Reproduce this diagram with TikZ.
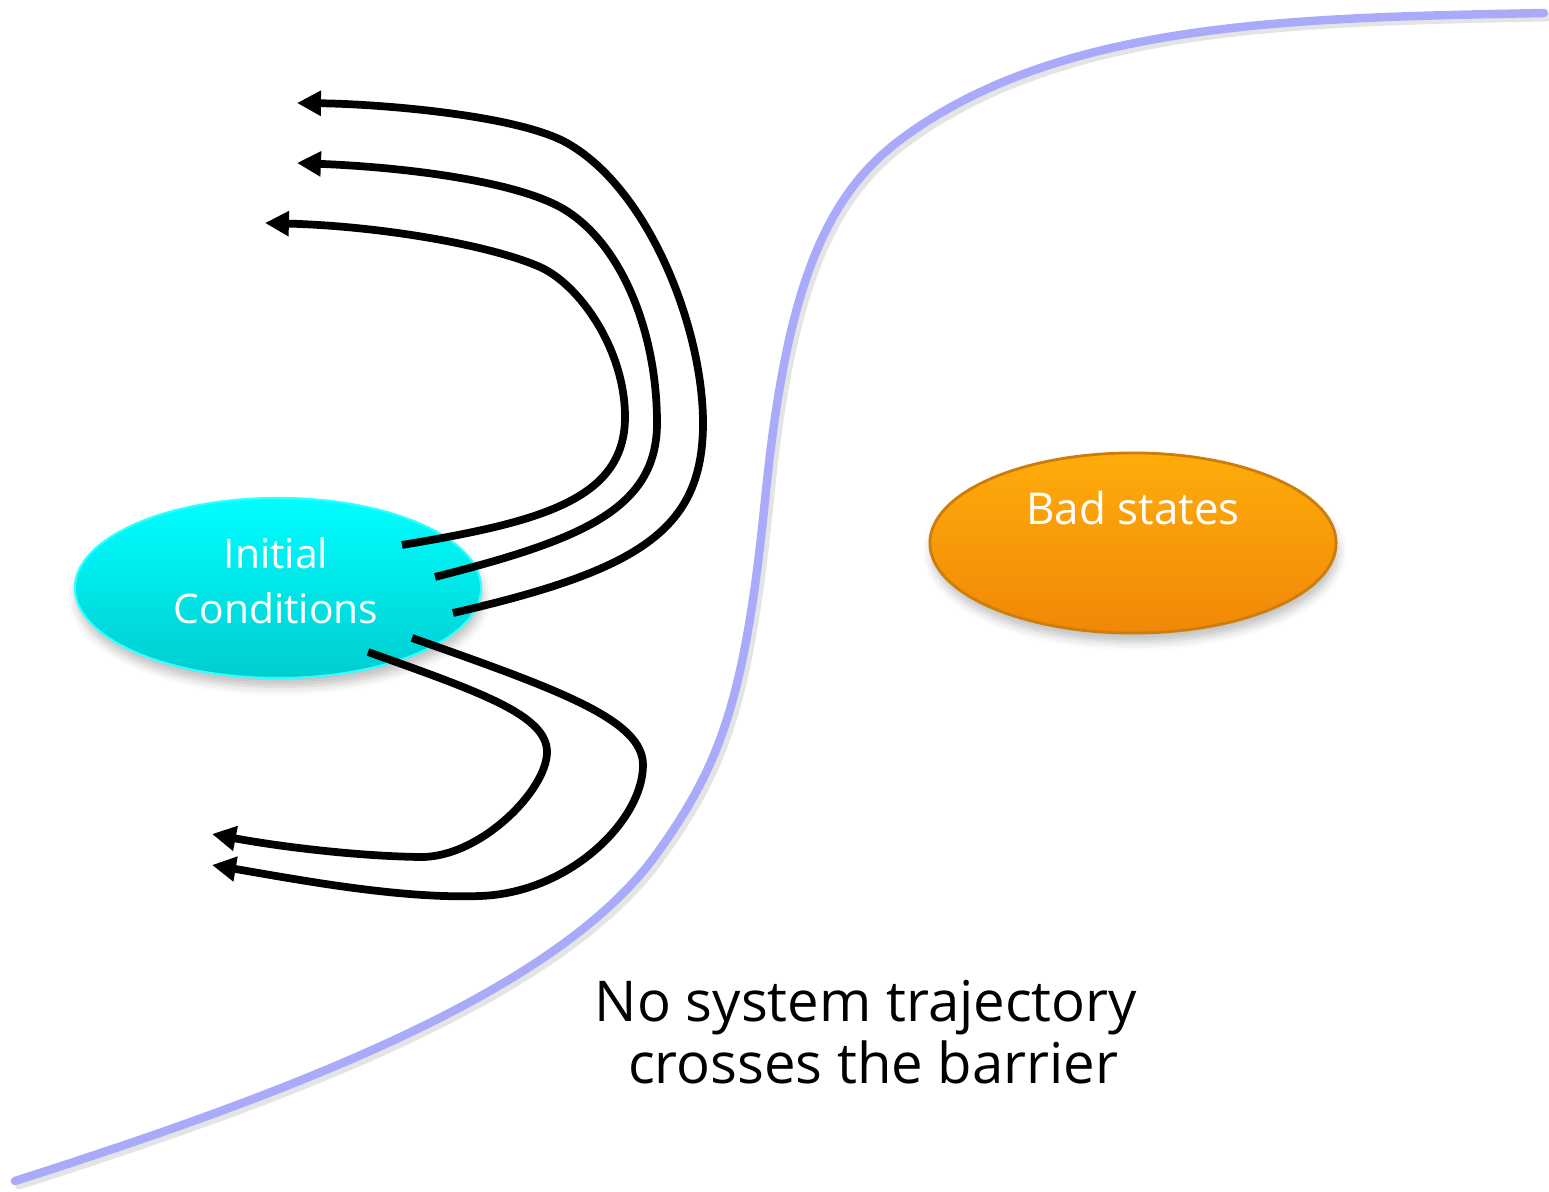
\documentclass[tikz,border=0pt]{standalone}
\usepackage{fontspec}
\setmainfont{Open Sans}
\usetikzlibrary{shapes.geometric,arrows.meta,shadows.blur}

\definecolor{barrierblue}{RGB}{170,170,250}
\definecolor{ictop}{RGB}{0,255,255}
\definecolor{icbot}{RGB}{0,205,208}
\definecolor{badtop}{RGB}{255,172,10}
\definecolor{badmid}{RGB}{252,160,10}
\definecolor{badbot}{RGB}{240,136,8}
\definecolor{badrim}{RGB}{205,125,10}

\begin{document}
\begin{tikzpicture}[x=0.01cm,y=-0.01cm,
  region/.style={ellipse,inner sep=0pt,minimum width=4.06cm,minimum height=1.8cm,
    blur shadow={shadow xshift=0.5pt,shadow yshift=-2.5pt,shadow blur radius=2.5pt,shadow opacity=25}},
  whitetext/.style={text=white,align=center,inner sep=0pt},
  traj/.style={line width=2.2pt,line join=round,
    -{Triangle[length=6.8pt,width=6.8pt]}},
  barrier/.style={line width=2.4pt,line cap=round}]
\useasboundingbox (0,0) rectangle (1549,1192);

% the barrier separating safe and unsafe regions (with a faint shadow)
\draw[barrier,black!30,opacity=0.35,xshift=1.2pt,yshift=-1.2pt]
  (15,1181) .. controls (300,1090) and (560,990) .. (658,852)
  .. controls (720,765) and (745,700) .. (765,500)
  .. controls (785,300) and (820,200) .. (900,140)
  .. controls (1060,20) and (1300,18) .. (1544,13);
\draw[barrier,barrierblue]
  (15,1181) .. controls (300,1090) and (560,990) .. (658,852)
  .. controls (720,765) and (745,700) .. (765,500)
  .. controls (785,300) and (820,200) .. (900,140)
  .. controls (1060,20) and (1300,18) .. (1544,13);

% initial set and unsafe set
\node[region,top color=ictop,bottom color=icbot,draw=ictop!80!white,line width=0.6pt]
  (ic) at (278,588) {};
\node[region,top color=badtop,middle color=badmid,bottom color=badbot,draw=badrim,line width=0.8pt]
  (bad) at (1133,543) {};

\node[whitetext,font=\fontsize{11.6}{15.6}\selectfont] (ictext) at (276,581) {Initial\\Conditions};
\node[whitetext,font=\fontsize{12.5}{15}\selectfont] (badtext) at (1133,508) {Bad states};

% trajectory start points and end points
\coordinate (s1) at (453,613);
\coordinate (s2) at (435,577);
\coordinate (s3) at (402,545);
\coordinate (s4) at (368,652);
\coordinate (s5) at (412,638);
\coordinate (t1) at (297,103);
\coordinate (t2) at (297,163);
\coordinate (t3) at (265,223);
\coordinate (t4) at (212,834);
\coordinate (t5) at (212,865);

% system trajectories leaving the initial set
\draw[traj] (s1) .. controls (640,570) and (703,530) .. (703,423)
  .. controls (703,330) and (650,190) .. (567,143)
  .. controls (517,115) and (380,104) .. (t1);
\draw[traj] (s2) .. controls (580,540) and (657,510) .. (657,423)
  .. controls (657,330) and (620,240) .. (560,207)
  .. controls (510,180) and (400,167) .. (t2);
\draw[traj] (s3) .. controls (540,522) and (625,500) .. (625,417)
  .. controls (625,350) and (580,285) .. (540,267)
  .. controls (490,245) and (380,226) .. (t3);
\draw[traj] (s4) .. controls (480,692) and (547,715) .. (547,752)
  .. controls (547,790) and (480,858) .. (420,857)
  .. controls (350,856) and (270,845) .. (t4);
\draw[traj] (s5) .. controls (560,690) and (643,720) .. (643,765)
  .. controls (643,820) and (570,893) .. (480,896)
  .. controls (400,899) and (300,880) .. (t5);

% caption
\node[font=\fontsize{16}{17.6}\selectfont,align=center,inner sep=0pt] (caption) at (866,1032)
  {No system trajectory\\ \ crosses the barrier};
\end{tikzpicture}
\end{document}
